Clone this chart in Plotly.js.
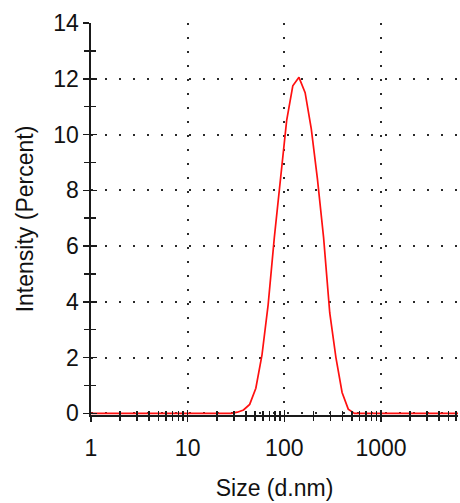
<!DOCTYPE html>
<html>
<head>
<meta charset="utf-8">
<script src="https://cdn.plot.ly/plotly-3.0.1.min.js"></script>
<style>html,body{margin:0;padding:0;background:#fff;}#chart{width:460px;height:503px;}</style>
</head>
<body>
<div id="chart"></div>
<script>
// Size bins (d.nm) and intensity (%)
var sizes = [0.8332, 0.9649, 1.117, 1.294, 1.499, 1.736, 2.01, 2.328, 2.696, 3.122, 3.615, 4.187, 4.849, 5.615, 6.503, 7.531, 8.721, 10.1, 11.7, 13.54, 15.69, 18.17, 21.04, 24.36, 28.21, 32.67, 37.84, 43.82, 50.75, 58.77, 68.06, 78.82, 91.28, 105.7, 122.4, 141.8, 164.2, 190.1, 220.2, 255.0, 295.3, 342.0, 396.1, 458.7, 531.2, 615.1, 712.4, 825.0, 955.4, 1106, 1281, 1484, 1718, 1990, 2305, 2669, 3091, 3580, 4145, 4801, 5560, 6439, 7456, 8635, 10000];
var intensity = [0, 0, 0, 0, 0, 0, 0, 0, 0, 0, 0, 0, 0, 0, 0, 0, 0, 0, 0, 0, 0, 0, 0, 0, 0, 0.04, 0.12, 0.32, 0.9, 2.1, 3.9, 6.3, 8.5, 10.5, 11.75, 12.05, 11.5, 10.2, 8.4, 6.3, 3.6, 2.0, 0.75, 0.15, 0, 0, 0, 0, 0, 0, 0, 0, 0, 0, 0, 0, 0, 0, 0, 0, 0, 0, 0, 0, 0];

var xMajor = [1, 10, 100, 1000];
var xMajorText = ['1', '10', '100', '1000'];
var xMinor = [2,3,4,5,6,7,8,9,20,30,40,50,60,70,80,90,200,300,400,500,600,700,800,900,2000,3000,4000,5000,6000];
var yMajor = [0, 2, 4, 6, 8, 10, 12, 14];
var yMinor = [1, 3, 5, 7, 9, 11, 13];

var xTitle = 'Size (d.nm)';
var yTitle = 'Intensity (Percent)';

var FONT = 'Liberation Sans, Arial, sans-serif';
var AX = '#1a1a1a';
var GRID = '#2a2a2a';
var FS = 23;
var xRange = [0, 3.797];
var yRange = [-0.06, 14];

var traces = [
  {x: sizes, y: intensity, type: 'scatter', mode: 'lines', xaxis: 'x', yaxis: 'y',
   line: {color: '#ff1010', width: 1.7}, hoverinfo: 'skip', showlegend: false},
  {x: sizes, y: intensity, type: 'scatter', mode: 'lines', xaxis: 'x2', yaxis: 'y2',
   line: {color: 'rgba(0,0,0,0)', width: 0}, hoverinfo: 'skip', showlegend: false}
];

var layout = {
  width: 460, height: 503,
  margin: {l: 91, r: 2, t: 23, b: 88},
  paper_bgcolor: '#fff', plot_bgcolor: '#fff',
  font: {family: FONT, color: '#111', size: FS},
  showlegend: false,
  xaxis: {
    type: 'log', range: xRange, tickmode: 'array', tickvals: xMajor, ticktext: xMajorText,
    ticks: 'outside', ticklen: 5, tickwidth: 1.5, tickcolor: AX,
    showline: true, linecolor: AX, linewidth: 1.6,
    showgrid: true, gridcolor: GRID, gridwidth: 2, griddash: '2px,12px',
    zeroline: false, tickfont: {size: FS, family: FONT, color: '#111'},
    ticklabelstandoff: 7,
    minor: {tickmode: 'array', tickvals: xMinor, ticks: 'outside', ticklen: 4, tickwidth: 1.5, tickcolor: AX, showgrid: false},
    title: {text: xTitle, font: {size: FS, family: FONT, color: '#111'}, standoff: 19},
    layer: 'below traces'
  },
  yaxis: {
    range: yRange, tickmode: 'array', tickvals: yMajor,
    ticks: 'outside', ticklen: 6, tickwidth: 1.5, tickcolor: AX,
    showline: true, linecolor: AX, linewidth: 1.6,
    showgrid: true, gridcolor: GRID, gridwidth: 2, griddash: '2px,12px',
    zeroline: false, tickfont: {size: FS, family: FONT, color: '#111'},
    ticklabelstandoff: 0,
    minor: {tickmode: 'array', tickvals: yMinor, ticks: 'outside', ticklen: 5, tickwidth: 1.5, tickcolor: AX, showgrid: false},
    title: {text: yTitle, font: {size: FS, family: FONT, color: '#111'}, standoff: 13},
    layer: 'below traces'
  },
  xaxis2: {
    type: 'log', range: xRange, overlaying: 'x', anchor: 'y2',
    tickmode: 'array', tickvals: xMajor, ticks: 'inside', ticklen: 5, tickwidth: 1.5, tickcolor: AX,
    showticklabels: false, showgrid: false, showline: false, zeroline: false,
    minor: {tickmode: 'array', tickvals: xMinor, ticks: 'inside', ticklen: 4, tickwidth: 1.5, tickcolor: AX, showgrid: false},
    side: 'bottom'
  },
  yaxis2: {
    range: yRange, overlaying: 'y', anchor: 'x2',
    tickmode: 'array', tickvals: yMajor, ticks: 'inside', ticklen: 6, tickwidth: 1.5, tickcolor: AX,
    showticklabels: false, showgrid: false, showline: false, zeroline: false,
    minor: {tickmode: 'array', tickvals: yMinor, ticks: 'inside', ticklen: 5, tickwidth: 1.5, tickcolor: AX, showgrid: false},
    side: 'left'
  }
};

Plotly.newPlot('chart', traces, layout, {displayModeBar: false, staticPlot: true});
</script>
</body>
</html>
